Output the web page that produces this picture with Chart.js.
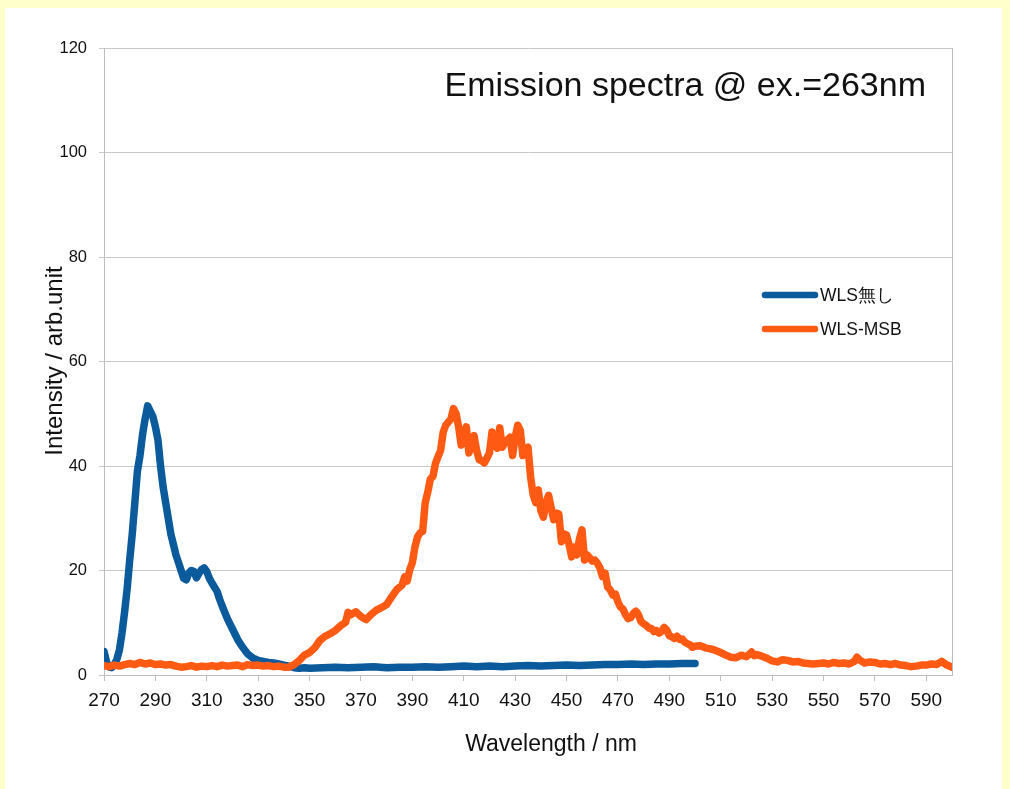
<!DOCTYPE html>
<html>
<head>
<meta charset="utf-8">
<script src="https://cdn.jsdelivr.net/npm/chart.js@4.4.1/dist/chart.umd.min.js"></script>
<style>
  html, body { margin: 0; padding: 0; background: #FFFFCC; }
  #wrap { position: absolute; left: 0; top: 0; width: 1010px; height: 789px; }
</style>
</head>
<body>
<div id="wrap"><canvas id="c" width="1010" height="789"></canvas></div>
<script>
// ---- data ----
const chartTitle = "Emission spectra @ ex.=263nm";
const xTitle = "Wavelength / nm";
const yTitle = "Intensity / arb.unit";
const seriesNames = ["WLS無し", "WLS-MSB"];
const xTickValues = [270, 290, 310, 330, 350, 370, 390, 410, 430, 450, 470, 490, 510, 530, 550, 570, 590];
const yTickValues = [0, 20, 40, 60, 80, 100, 120];

const blueWavelength = [270,271,272,273,274,275,276,277,278,279,280,281,282,283,284,285,286,287,288,289,290,291,292,293,294,295,296,297,298,299,300,301,302,303,304,305,306,307,308,309,310,311,312,313,314,315,316,317,318,319,320,321,322,323,324,325,326,327,328,329,330,332,334,336,338,340,342,344,346,348,350,355,360,365,370,375,380,385,390,395,400,405,410,415,420,425,430,435,440,445,450,455,460,465,470,475,480,485,490,495,500];
const blueIntensity = [4.5,2.5,1.5,1.4,2.0,3.0,4.8,8.0,12.0,16.5,22.0,27.0,33.0,39.0,42.0,46.0,49.0,51.5,50.5,49.5,47.5,45.0,40.0,36.0,33.0,30.0,27.0,25.0,23.0,21.5,20.0,18.5,18.2,19.5,20.0,19.8,18.6,19.5,20.2,20.5,19.8,18.5,17.6,16.8,16.0,14.5,13.2,12.0,10.8,9.8,8.8,7.8,6.8,6.0,5.3,4.6,4.0,3.6,3.2,3.0,2.8,2.6,2.4,2.3,2.1,1.9,1.7,1.4,1.3,1.4,1.3,1.4,1.5,1.4,1.5,1.6,1.4,1.5,1.5,1.6,1.5,1.6,1.7,1.6,1.7,1.6,1.7,1.8,1.7,1.8,1.9,1.8,1.9,2.0,2.0,2.1,2.0,2.1,2.1,2.2,2.2];

const orangeWavelength = [270,272,274,276,278,280,282,284,286,288,290,292,294,296,298,300,302,304,306,308,310,312,314,316,318,320,322,324,326,328,330,332,334,336,338,340,342,344,346,348,350,352,354,356,358,360,362,364,365,366,368,370,372,374,376,378,380,382,384,386,387,388,389,390,391,392,393,394,395,396,397,398,399,400,401,402,403,404,405,406,407,408,409,410,411,412,413,414,415,416,417,418,419,420,421,422,423,424,425,426,427,428,429,430,431,432,433,434,435,436,437,438,439,440,441,442,443,444,445,446,447,448,449,450,451,452,453,454,455,456,457,458,459,460,461,462,463,464,465,466,467,468,469,470,471,472,473,474,475,476,477,478,479,480,481,482,483,484,485,486,487,488,489,490,491,492,493,494,495,496,497,498,499,500,502,504,506,508,510,512,514,516,518,520,521,522,523,524,526,528,530,532,534,536,538,540,542,544,546,548,550,552,554,556,558,560,562,563,564,566,568,570,572,574,576,578,580,582,584,586,588,590,592,594,596,598,600];
const orangeIntensity = [1.8,1.6,1.9,1.7,2.0,2.2,2.0,2.4,2.1,2.3,2.0,2.1,1.9,2.0,1.7,1.5,1.6,1.8,1.5,1.7,1.6,1.8,1.6,1.9,1.7,1.8,1.9,1.6,2.0,1.8,1.9,1.7,1.8,1.6,1.7,1.5,1.5,2.0,2.8,3.8,4.3,5.2,6.6,7.4,7.9,8.5,9.4,10.1,12.0,11.5,12.1,11.2,10.6,11.6,12.4,12.9,13.5,15.0,16.4,17.2,18.8,18.0,20.2,21.5,24.5,26.4,27.2,27.5,33.0,35.0,37.5,38.0,40.5,41.8,43.0,46.5,47.8,48.4,49.0,51.0,50.0,47.5,44.0,45.0,47.5,42.5,44.0,45.8,43.0,41.2,41.0,40.6,41.5,42.5,46.5,44.5,43.4,47.3,43.6,44.5,45.0,45.5,42.0,45.5,47.8,46.8,42.0,43.0,43.6,38.0,34.5,33.0,35.4,31.5,30.2,33.0,34.4,32.0,29.7,31.0,30.8,25.5,27.0,26.8,25.0,22.6,24.5,23.0,26.0,27.8,22.0,23.0,22.4,21.8,22.0,21.4,20.5,18.8,19.5,16.8,16.3,15.3,15.5,14.0,13.0,12.6,11.5,10.8,11.0,11.8,12.2,11.5,10.2,9.8,9.5,9.0,8.9,8.3,8.5,8.0,8.4,9.1,8.6,7.5,7.3,7.0,7.4,6.8,6.9,6.3,6.0,5.8,5.3,5.5,5.6,5.2,5.0,4.7,4.3,3.8,3.4,3.3,3.8,3.5,3.9,4.4,3.7,3.9,3.6,3.2,2.7,2.5,2.9,2.8,2.5,2.6,2.3,2.2,2.1,2.2,2.3,2.1,2.4,2.2,2.3,2.1,2.6,3.4,2.9,2.3,2.5,2.4,2.1,2.2,2.0,2.2,1.9,1.8,1.6,1.7,1.9,1.9,2.1,2.0,2.6,1.9,1.5];

const seriesColors = ["#0A5A9C", "#FF5A14"];

// ---- chart ----
function toPoints(xs, ys) { return xs.map((x, i) => ({ x: x, y: ys[i] })); }

const FONT = '"Liberation Sans", Arial, Helvetica, sans-serif';

const framePlugin = {
  id: 'framePlugin',
  beforeDraw(chart) {
    const ctx = chart.ctx;
    ctx.save();
    ctx.fillStyle = '#FFFFCC';
    ctx.fillRect(0, 0, chart.width, chart.height);
    ctx.fillStyle = '#FFFFFF';
    ctx.fillRect(5, 8, 997, chart.height - 8);
    ctx.restore();
  },
  beforeDatasetsDraw(chart) {
    const { ctx, chartArea: a } = chart;
    ctx.save();
    ctx.strokeStyle = '#BEBEBE';
    ctx.lineWidth = 1;
    ctx.beginPath();
    ctx.moveTo(Math.round(a.right) + 0.5, a.top);
    ctx.lineTo(Math.round(a.right) + 0.5, a.bottom);
    ctx.stroke();
    ctx.restore();
  },
  afterDraw(chart) {
    const { ctx } = chart;
    ctx.save();
    ctx.fillStyle = '#111';
    ctx.font = '34px ' + FONT;
    ctx.textAlign = 'right';
    ctx.textBaseline = 'alphabetic';
    ctx.fillText(chartTitle, 926, 96);
    const rows = [295, 329];
    chart.data.datasets.forEach((ds, i) => {
      const y = rows[i];
      ctx.strokeStyle = ds.borderColor;
      ctx.lineWidth = 6.5;
      ctx.lineCap = 'round';
      ctx.beginPath();
      ctx.moveTo(765, y);
      ctx.lineTo(815, y);
      ctx.stroke();
      ctx.fillStyle = '#111';
      ctx.font = '17.5px ' + FONT;
      ctx.textAlign = 'left';
      ctx.textBaseline = 'middle';
      ctx.fillText(ds.label, 820, y + 1);
    });
    ctx.fillStyle = '#111';
    ctx.font = '23px ' + FONT;
    ctx.textAlign = 'center';
    ctx.textBaseline = 'middle';
    ctx.fillText(xTitle, 551, 745);
    ctx.translate(55, 361);
    ctx.rotate(-Math.PI / 2);
    ctx.font = '24px ' + FONT;
    ctx.fillText(yTitle, 0, 0);
    ctx.restore();
  }
};

new Chart(document.getElementById('c'), {
  type: 'line',
  data: {
    datasets: [
      {
        label: seriesNames[0],
        data: toPoints(blueWavelength, blueIntensity),
        borderColor: seriesColors[0],
        backgroundColor: seriesColors[0],
        borderWidth: 7.5,
        pointRadius: 0,
        tension: 0,
        borderCapStyle: 'round',
        borderJoinStyle: 'round',
        order: 1
      },
      {
        label: seriesNames[1],
        data: toPoints(orangeWavelength, orangeIntensity),
        borderColor: seriesColors[1],
        backgroundColor: seriesColors[1],
        borderWidth: 7.5,
        pointRadius: 0,
        tension: 0,
        borderCapStyle: 'round',
        borderJoinStyle: 'round',
        order: 0
      }
    ]
  },
  options: {
    responsive: false,
    animation: false,
    events: [],
    layout: { padding: { left: 0, right: 58, top: 48, bottom: 0 } },
    plugins: {
      legend: { display: false },
      title: { display: false },
      tooltip: { enabled: false }
    },
    scales: {
      x: {
        type: 'linear',
        min: 270,
        max: 600,
        afterBuildTicks(axis) { axis.ticks = xTickValues.map(v => ({ value: v })); },
        afterFit(axis) { axis.height = 114; },
        grid: { drawOnChartArea: false, drawTicks: true, tickLength: 6, color: '#BEBEBE' },
        border: { display: true, color: '#BEBEBE', width: 1 },
        ticks: {
          autoSkip: false,
          maxRotation: 0,
          padding: 8,
          color: '#111',
          font: { family: FONT, size: 19 }
        }
      },
      y: {
        type: 'linear',
        min: 0,
        max: 120,
        afterBuildTicks(axis) { axis.ticks = yTickValues.map(v => ({ value: v })); },
        afterFit(axis) { axis.width = 104; },
        grid: { drawOnChartArea: true, drawTicks: true, tickLength: 5, color: '#C8C8C8' },
        border: { display: true, color: '#BEBEBE', width: 1 },
        ticks: {
          padding: 12,
          color: '#111',
          font: { family: FONT, size: 16.5 }
        }
      }
    }
  },
  plugins: [framePlugin]
});
</script>
</body>
</html>
